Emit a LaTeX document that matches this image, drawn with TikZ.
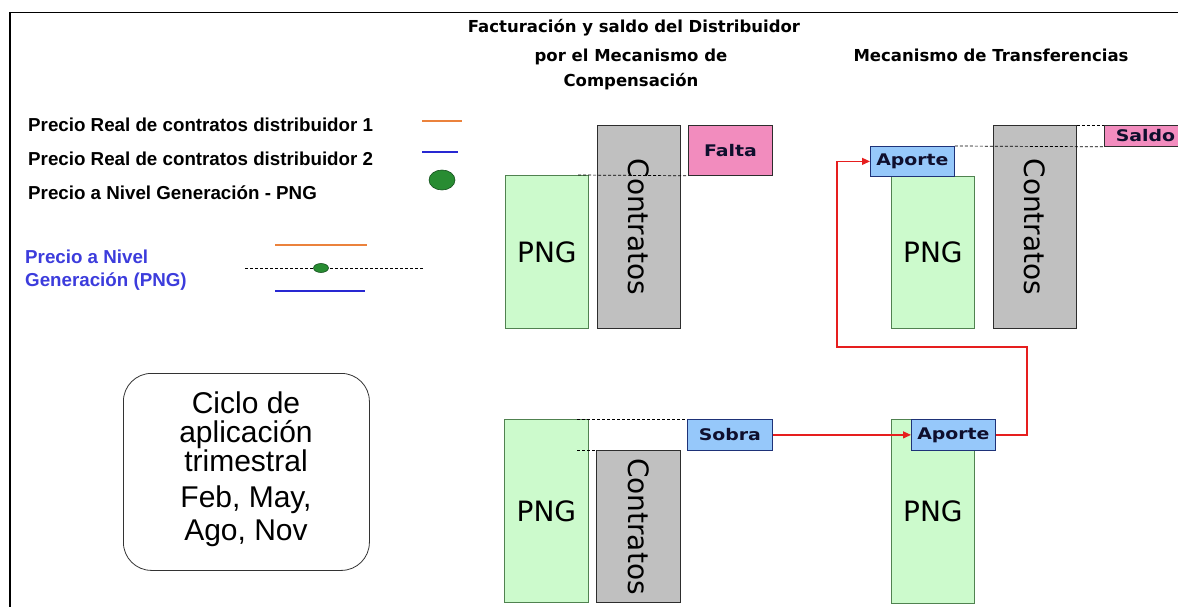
\documentclass[tikz,border=0pt]{standalone}
\usepackage{fontspec}
\usepackage{graphicx}
\setmainfont{Liberation Sans}
\newfontfamily\dv{DejaVu Sans}
\usetikzlibrary{arrows.meta}

\definecolor{pngfill}{RGB}{204,250,204}
\definecolor{pngdraw}{RGB}{80,130,80}
\definecolor{ctfill}{RGB}{192,192,192}
\definecolor{ctdraw}{RGB}{45,45,45}
\definecolor{pinkfill}{RGB}{242,140,190}
\definecolor{bluefill}{RGB}{150,200,250}
\definecolor{bluedraw}{RGB}{30,50,120}
\definecolor{flowred}{RGB}{230,30,30}
\definecolor{legorange}{RGB}{235,130,60}
\definecolor{legblue}{RGB}{40,40,210}
\definecolor{legtext}{RGB}{60,60,220}
\definecolor{dotgreen}{RGB}{40,140,50}
\definecolor{dotdraw}{RGB}{20,80,30}
\definecolor{labtext}{RGB}{15,15,45}

% horizontal stretch for the wide bold labels
\newcommand\hstretch[2]{\scalebox{#1}[1]{#2}}

\begin{document}
\begin{tikzpicture}[x=1pt,y=-1pt,
  every node/.style={inner sep=0pt},
  box/.style={anchor=north west, inner sep=0pt, line width=0.8pt},
  pngbox/.style={box, draw=pngdraw, fill=pngfill, text=black,
    font=\dv\fontsize{28}{28}\selectfont},
  ctbox/.style={box, draw=ctdraw, fill=ctfill, text=black,
    font=\dv\fontsize{28}{28}\selectfont},
  pinkbox/.style={box, draw=ctdraw, fill=pinkfill, text=labtext,
    font=\dv\bfseries\fontsize{16}{16}\selectfont},
  bluebox/.style={box, draw=bluedraw, fill=bluefill, text=labtext,
    font=\dv\bfseries\fontsize{16}{16}\selectfont},
  guide/.style={dash pattern=on 3pt off 2pt, line width=0.7pt},
  flow/.style={color=flowred, line width=1.2pt, -{Triangle[length=8pt,width=7pt]}},
  legtxt/.style={anchor=base west, font=\bfseries\fontsize{18.75}{22}\selectfont},
  headtxt/.style={anchor=base, font=\dv\bfseries\fontsize{16.5}{16}\selectfont},
  cyctxt/.style={anchor=base, font=\fontsize{30}{30}\selectfont}
]
\useasboundingbox (0,0) rectangle (1178,607);
\clip (0,0) rectangle (1178,607);

% frame
\draw[line width=1.6pt] (10,607) -- (10,12.5) -- (1178,12.5);

% legend
\node[legtxt] (leg1) at (28,131.7) {Precio Real de contratos distribuidor 1};
\node[legtxt] (leg2) at (28,165.5) {Precio Real de contratos distribuidor 2};
\node[legtxt] (leg3) at (28,199) {Precio a Nivel Generación - PNG};
\draw[legorange, line width=1.6pt] (422,121) -- (462,121);
\draw[legblue, line width=1.6pt] (422,152) -- (458,152);
\draw[draw=dotdraw, fill=dotgreen, line width=0.6pt] (442,180) ellipse [x radius=13pt, y radius=10pt];

\node[legtxt, text=legtext] (pl1) at (25,263) {Precio a Nivel};
\node[legtxt, text=legtext] (pl2) at (25,286) {Generación (PNG)};
\draw[legorange, line width=1.6pt] (275,245) -- (367,245);
\draw[guide] (245,268) -- (423,268);
\draw[draw=dotdraw, fill=dotgreen, line width=0.6pt] (321,268) ellipse [x radius=7.5pt, y radius=4.5pt];
\draw[legblue, line width=1.6pt] (275,291) -- (365,291);

% cycle box
\node[box, draw=black!80, rounded corners=28pt, minimum width=246, minimum height=197] (cyc) at (123,373) {};
\node[cyctxt] (cy1) at (246,413) {Ciclo de};
\node[cyctxt] (cy2) at (246,442) {aplicación};
\node[cyctxt] (cy3) at (246,471) {trimestral};
\node[cyctxt] (cy4) at (246,507) {Feb, May,};
\node[cyctxt] (cy5) at (246,540) {Ago, Nov};

% headings
\node[headtxt] (h1) at (634,33) {Facturación y saldo del Distribuidor};
\node[headtxt] (h2) at (631,62) {por el Mecanismo de};
\node[headtxt] (h3) at (631,87) {Compensación};
\node[headtxt] (h4) at (991,62) {Mecanismo de Transferencias};

% compensation: shortfall case
\node[pngbox, minimum width=83, minimum height=153] (pngA) at (505,175) {PNG};
\node[ctbox, minimum width=83, minimum height=203] (ctA) at (597,125) {\rotatebox{-90}{Contratos}};
\node[pinkbox, minimum width=84, minimum height=50] (falta) at (688,125) {\hstretch{1.18}{Falta}};
\draw[guide] (578,175) -- (falta.south west);

% compensation: surplus case
\node[pngbox, minimum width=84, minimum height=183] (pngC) at (504,419) {PNG};
\node[ctbox, minimum width=84, minimum height=152] (ctC) at (596,450) {\rotatebox{-90}{Contratos}};
\node[bluebox, minimum width=85, minimum height=31] (sobra) at (687,419) {\hstretch{1.18}{Sobra}};
\draw[guide] (577,419) -- (sobra.north west);
\draw[guide] (577,450) -- (ctC.north west);

% transfers: receiving distributor
\node[pngbox, minimum width=83, minimum height=152] (pngB) at (891,176) {PNG};
\node[bluebox, minimum width=84, minimum height=30] (aporteT) at (870,146) {\hstretch{1.18}{Aporte}};
\node[ctbox, minimum width=83, minimum height=203] (ctB) at (993,125) {\rotatebox{-90}{Contratos}};
\node[pinkbox, minimum width=82, minimum height=21] (saldo) at (1104,125) {\hstretch{1.18}{Saldo}};
\draw[guide] (ctB.north east) -- (saldo.north west);
\draw[guide] (aporteT.north east) -- (saldo.south west);

% transfers: contributing distributor
\node[pngbox, minimum width=83, minimum height=184] (pngD) at (891,419) {PNG};
\node[bluebox, minimum width=84, minimum height=31] (aporteB) at (911,419) {\hstretch{1.18}{Aporte}};

% flows
\coordinate (bendR) at (1027,347);
\coordinate (bendL) at (837,347);
\draw[flow] (sobra.east) -- (aporteB.west);
\draw[flow] (aporteB.east) -| (bendR) -- (bendL) |- (aporteT.west);
\end{tikzpicture}
\end{document}
